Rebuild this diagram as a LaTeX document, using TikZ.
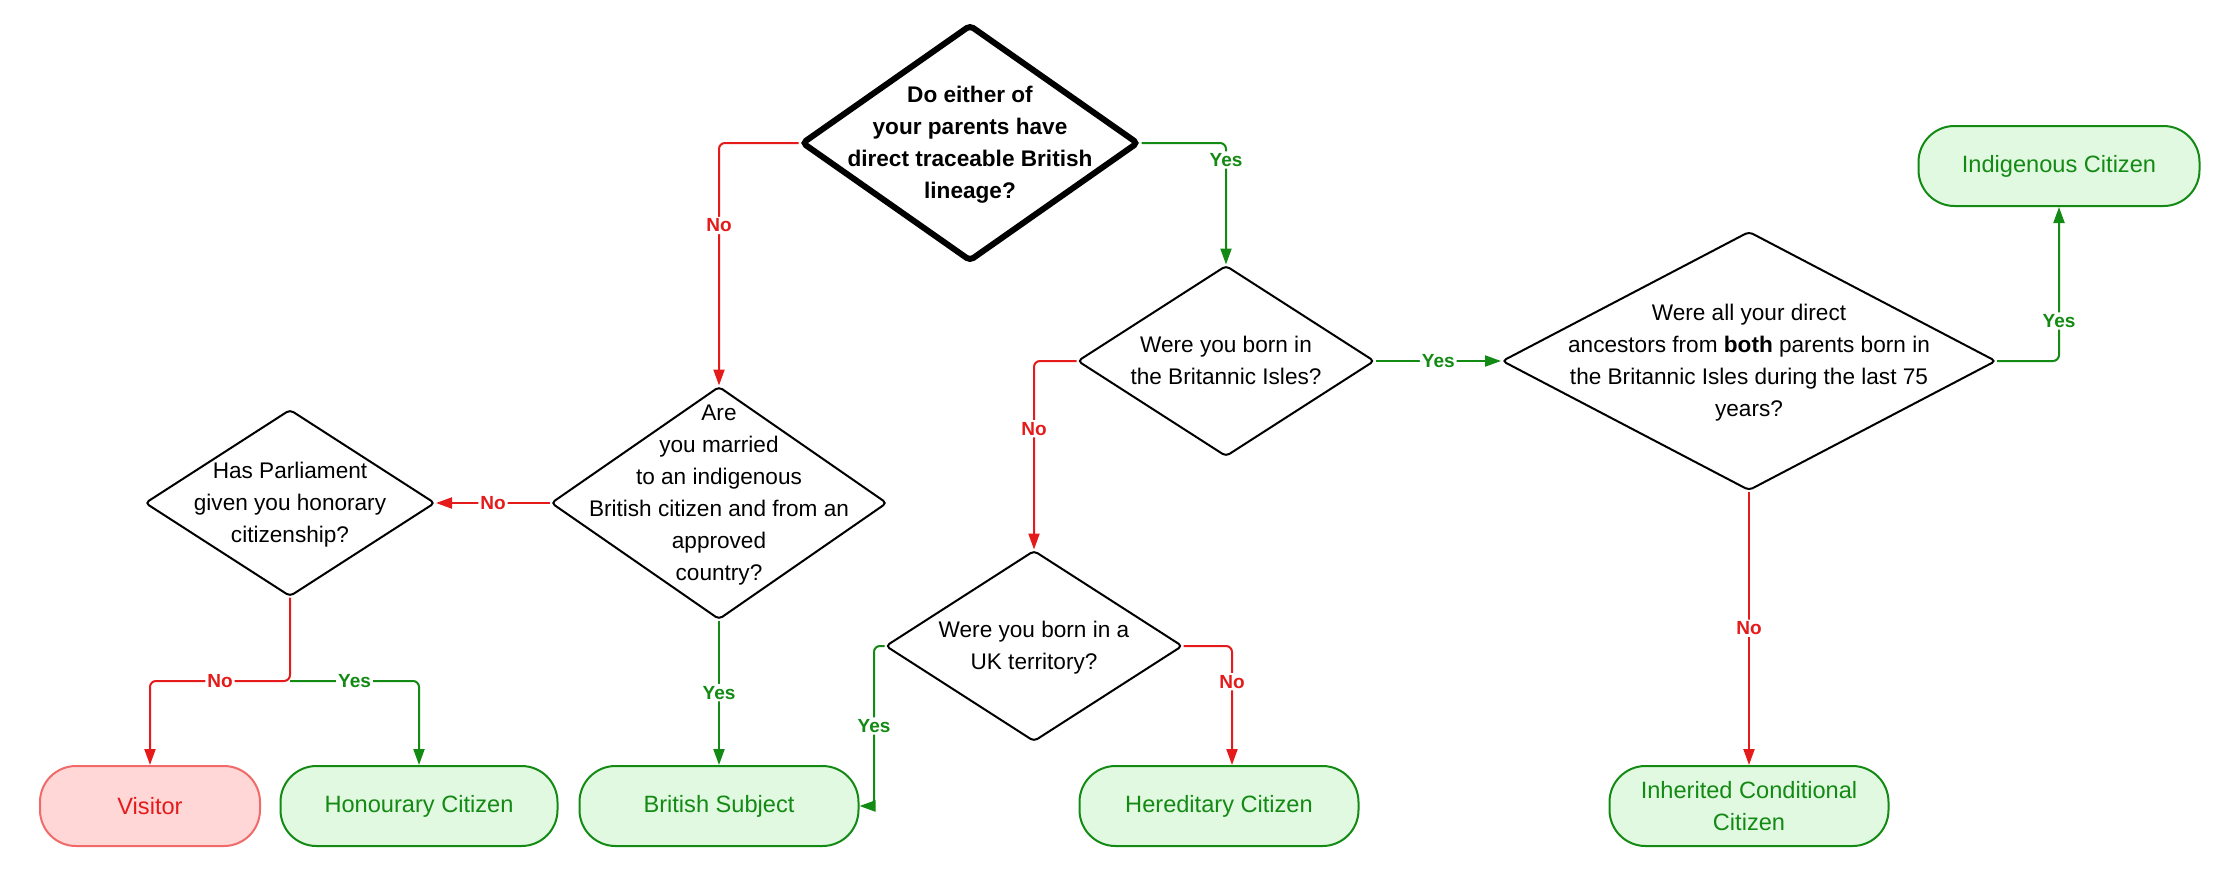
\documentclass[tikz,border=0pt]{standalone}
\usepackage{fontspec}
\setmainfont{Liberation Sans}
\usetikzlibrary{shapes.geometric}
\usetikzlibrary{arrows.meta}

\definecolor{nored}{HTML}{E51B1B}
\definecolor{yesgreen}{HTML}{138A13}
\definecolor{okfill}{HTML}{E1F8E1}
\definecolor{badfill}{HTML}{FFD7D7}
\definecolor{badline}{HTML}{F06A6A}

% question text, lines split by \\, kept out of the diamond size; #1 = lift
\newcommand{\qtext}[2][0pt]{%
	\makebox[0pt]{\raisebox{\dimexpr #1-0.3em\relax}[0pt][0pt]{\begin{tabular}{@{}c@{}}#2\end{tabular}}}%
}

\tikzset{
	question/.style={diamond, draw, line width=1pt, rounded corners=2pt, inner sep=0pt,
		font=\fontsize{11.3}{16}\selectfont},
	result/.style={rectangle, draw=yesgreen, fill=okfill, text=yesgreen, line width=1pt,
		rounded corners=18pt, minimum height=40pt, align=center,
		font=\fontsize{11.8}{16}\selectfont},
	badresult/.style={result, draw=badline, fill=badfill, text=nored},
	link/.style={line width=1pt, rounded corners=3pt, -{Triangle[length=8pt,width=5.5pt]}},
	nolink/.style={link, nored},
	yeslink/.style={link, yesgreen},
	lab/.style={fill=white, inner sep=1pt, font=\fontsize{9.5}{10}\selectfont\bfseries},
}

\begin{document}
\begin{tikzpicture}[x=0.5pt, y=-0.5pt]
\useasboundingbox (0,0) rectangle (2240,885);

% questions
\node[question, line width=3pt, minimum width=168.5pt, minimum height=118.5pt] (q1) at (970,143)
	{\qtext{\textbf{Do either of}\\\textbf{your parents have}\\\textbf{direct traceable British}\\\textbf{lineage?}}};
\node[question, minimum width=168pt, minimum height=116.5pt] (q2) at (719,503)
	{\qtext[5pt]{Are\\you married\\to an indigenous\\British citizen and from an\\approved\\country?}};
\node[question, minimum width=145pt, minimum height=93.5pt] (q4) at (290,503)
	{\qtext{Has Parliament\\given you honorary\\citizenship?}};
\node[question, minimum width=148.5pt, minimum height=95.5pt] (q3) at (1226,361)
	{\qtext{Were you born in\\the Britannic Isles?}};
\node[question, minimum width=148.5pt, minimum height=95.5pt] (q5) at (1034,646)
	{\qtext{Were you born in a\\UK territory?}};
\node[question, minimum width=247pt, minimum height=129.5pt] (q6) at (1749,361)
	{\qtext{Were all your direct\\ancestors from \textbf{both} parents born in\\the Britannic Isles during the last 75\\years?}};

% outcomes
\node[badresult, minimum width=110pt] (vis) at (150,806) {Visitor};
\node[result, minimum width=138.5pt] (hon) at (419,806) {Honourary Citizen};
\node[result, minimum width=139.5pt] (bs) at (719,806) {British Subject};
\node[result, minimum width=139.5pt] (her) at (1219,806) {Hereditary Citizen};
\node[result, minimum width=139.5pt] (icc) at (1749,806) {Inherited Conditional\\Citizen};
\node[result, minimum width=140.5pt] (ic) at (2059,166) {Indigenous Citizen};

\coordinate (q4split) at (290,681);
\coordinate (q5turn) at (874,646);

% connectors
\draw[nolink] (q1.west) -| node[lab, pos=0.67]{No} (q2.north);
\draw[yeslink] (q1.east) -| node[lab, pos=0.57]{Yes} (q3.north);
\draw[nolink] (q2.west) -- node[lab]{No} (q4.east);
\draw[yeslink] (q2.south) -- node[lab]{Yes} (bs.north);
\draw[nolink] (q4.south) -- (q4split) -| node[lab, pos=0.25]{No} (vis.north);
\draw[yeslink] (q4split) -| node[lab, pos=0.25]{Yes} (hon.north);
\draw[nolink] (q3.west) -| node[lab, pos=0.68]{No} (q5.north);
\draw[yeslink] (q3.east) -- node[lab]{Yes} (q6.west);
\draw[yeslink] (q5.west) -- (q5turn) |- node[lab, pos=0.25]{Yes} (bs.east);
\draw[nolink] (q5.east) -| node[lab, pos=0.65]{No} ([xshift=6.5pt]her.north);
\draw[yeslink] (q6.east) -| node[lab, pos=0.63]{Yes} (ic.south);
\draw[nolink] (q6.south) -- node[lab]{No} (icc.north);
\end{tikzpicture}
\end{document}
